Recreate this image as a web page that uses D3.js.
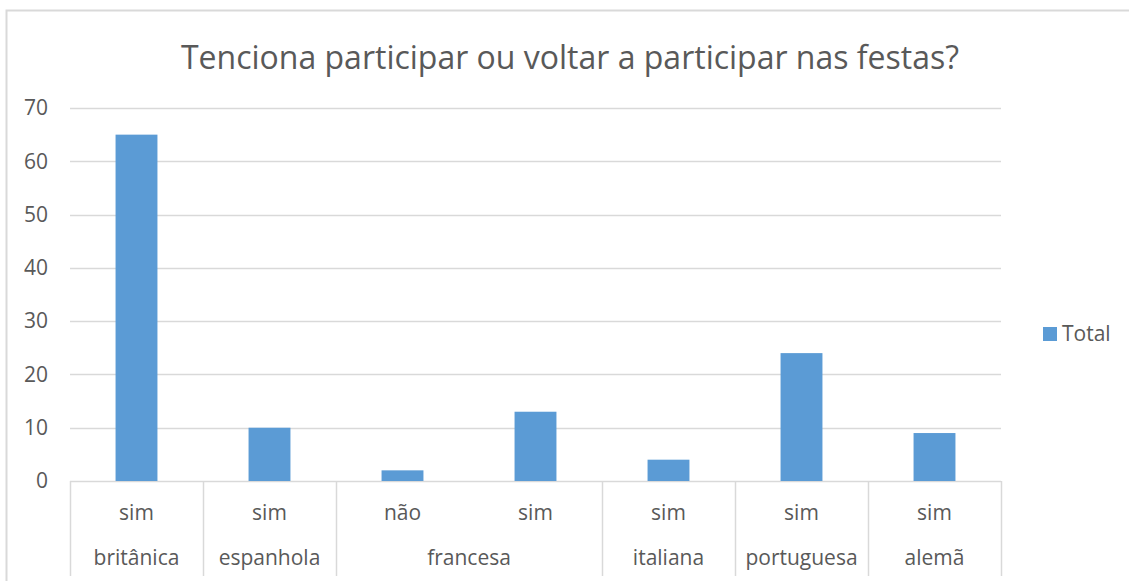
<!DOCTYPE html>
<html>
<head>
<meta charset="utf-8">
<script src="https://cdn.jsdelivr.net/npm/d3@7/dist/d3.min.js"></script>
<style>
  body { margin: 0; background: #fff; }
  svg { display: block; font-family: "Open Sans", Lato, sans-serif; }
</style>
</head>
<body>
<svg id="chart" width="1129" height="581"></svg>
<script>
// data
var answers = ["sim", "sim", "não", "sim", "sim", "sim", "sim"];
var nationalities = ["britânica", "espanhola", "francesa", "francesa", "italiana", "portuguesa", "alemã"];
var totals = [65, 10, 2, 13, 4, 24, 9];
var yTicks = [0, 10, 20, 30, 40, 50, 60, 70];
var seriesName = "Total";
var title = "Tenciona participar ou voltar a participar nas festas?";

(function() {
  var svg = d3.select("#chart");
  var grey = "#d9d9d9", txt = "#595959", blue = "#5b9bd5";
  var font = "'Open Sans', Lato, sans-serif";

  var plotLeft = 70, plotRight = 1001, plotTop = 108, plotBottom = 481;

  // chart frame
  svg.append("rect")
    .attr("x", 6.5).attr("y", 10.5)
    .attr("width", 1140).attr("height", 600)
    .attr("fill", "none").attr("stroke", grey).attr("stroke-width", 2);

  svg.append("text")
    .attr("x", 570).attr("y", 69)
    .attr("text-anchor", "middle")
    .attr("fill", txt)
    .style("font-size", "32px")
    .text(title);

  var idx = d3.range(totals.length);
  var x = d3.scaleBand().domain(idx).range([plotLeft, plotRight]);
  var y = d3.scaleLinear().domain([0, 70]).range([plotBottom, plotTop]);

  // gridlines
  svg.append("g").selectAll("line")
    .data(yTicks)
    .enter().append("line")
    .attr("x1", plotLeft).attr("x2", plotRight)
    .attr("y1", function(d) { return Math.round(y(d)) + 0.5; })
    .attr("y2", function(d) { return Math.round(y(d)) + 0.5; })
    .attr("stroke", grey).attr("stroke-width", 1.5);

  // y labels
  var yAxis = svg.append("g")
    .attr("transform", "translate(" + (plotLeft - 22) + ",0)")
    .call(d3.axisLeft(y).tickValues(yTicks).tickSize(0).tickPadding(0));
  yAxis.select(".domain").remove();
  yAxis.selectAll("text")
    .attr("fill", txt)
    .style("font-size", "21px")
    .style("font-family", font);

  // bars
  var barW = x.bandwidth() * 0.315;
  svg.append("g").selectAll("rect")
    .data(totals)
    .enter().append("rect")
    .attr("x", function(d, i) { return x(i) + x.bandwidth() / 2 - barW / 2; })
    .attr("y", function(d) { return y(d); })
    .attr("width", barW)
    .attr("height", function(d) { return y(0) - y(d); })
    .attr("fill", blue);

  // nationality groups for the outer axis level
  var groups = [];
  nationalities.forEach(function(n, i) {
    if (!groups.length || groups[groups.length - 1].name !== n) groups.push({ name: n, start: i, end: i });
    else groups[groups.length - 1].end = i;
  });
  var dividers = [plotLeft].concat(groups.map(function(g) { return x(g.end) + x.bandwidth(); }));
  svg.append("g").selectAll("line")
    .data(dividers)
    .enter().append("line")
    .attr("x1", function(d) { return Math.round(d) + 0.5; })
    .attr("x2", function(d) { return Math.round(d) + 0.5; })
    .attr("y1", plotBottom).attr("y2", 576)
    .attr("stroke", grey).attr("stroke-width", 1.5);

  // inner labels
  svg.append("g").selectAll("text")
    .data(answers)
    .enter().append("text")
    .attr("x", function(d, i) { return x(i) + x.bandwidth() / 2; })
    .attr("y", 520)
    .attr("text-anchor", "middle")
    .attr("fill", txt)
    .style("font-size", "21px")
    .text(function(d) { return d; });

  // outer labels
  svg.append("g").selectAll("text")
    .data(groups)
    .enter().append("text")
    .attr("x", function(g) { return (x(g.start) + x(g.end) + x.bandwidth()) / 2; })
    .attr("y", 565)
    .attr("text-anchor", "middle")
    .attr("fill", txt)
    .style("font-size", "21px")
    .text(function(g) { return g.name; });

  // legend
  svg.append("rect")
    .attr("x", 1043).attr("y", 327).attr("width", 14).attr("height", 14)
    .attr("fill", blue);
  svg.append("text")
    .attr("x", 1062).attr("y", 341)
    .attr("fill", txt)
    .style("font-size", "21px")
    .text(seriesName);
})();
</script>
</body>
</html>
